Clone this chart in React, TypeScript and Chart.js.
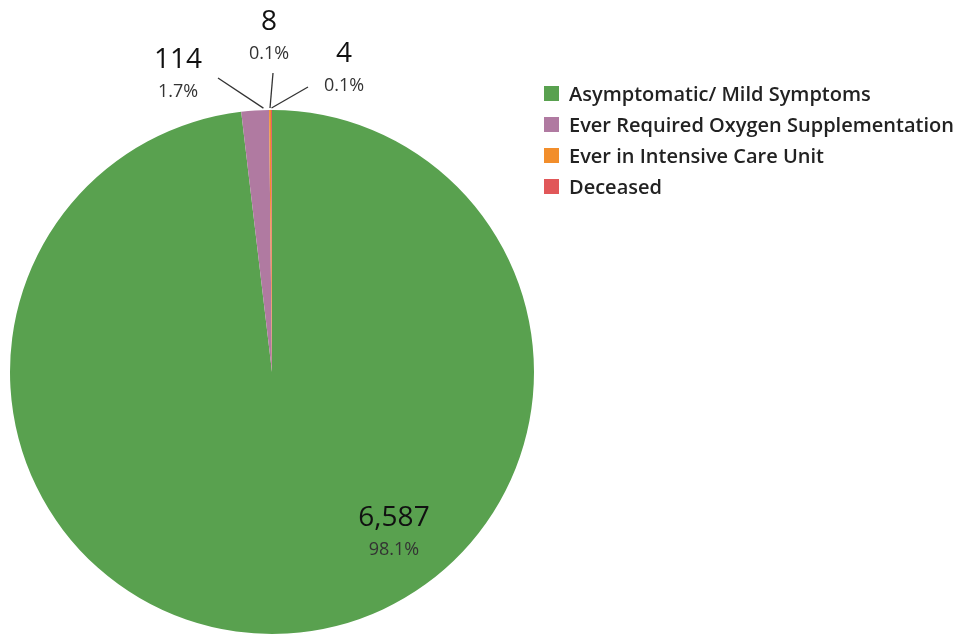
import React, { useEffect, useRef } from "react";
import { Chart, registerables } from "chart.js";

Chart.register(...registerables);

const categories = [
  "Asymptomatic/ Mild Symptoms",
  "Ever Required Oxygen Supplementation",
  "Ever in Intensive Care Unit",
  "Deceased",
];
const counts = [6587, 114, 8, 4];
const colors = ["#59A14F", "#B07AA1", "#F28E2B", "#E15759"];

// label layout (positions of text relative to image)
const labelLayout = [
  { x: 394, y: 526, line: null as null | { x: number; y: number }, frac: 0.5 },
  { x: 178, y: 68, line: { x: 218, y: 78 }, frac: 0.8 },
  { x: 269, y: 30, line: { x: 273, y: 73 }, frac: 0.5 },
  { x: 344, y: 62, line: { x: 308, y: 87 }, frac: 0.5 },
];

const FONT = "'Open Sans', 'Noto Sans', sans-serif";

const labelPlugin = {
  id: "customLabels",
  afterDraw(chart: any) {
    const ctx = chart.ctx as CanvasRenderingContext2D;
    const meta = chart.getDatasetMeta(0);
    const data = chart.data.datasets[0].data as number[];
    const total = data.reduce((a, b) => a + b, 0);
    ctx.save();
    meta.data.forEach((arc: any, i: number) => {
      const p = arc.getProps(["x", "y", "startAngle", "endAngle", "outerRadius"], true);
      const lay = labelLayout[i];
      const val = data[i];
      const pct = ((val / total) * 100).toFixed(1) + "%";
      if (lay.line) {
        const a = p.startAngle + (p.endAngle - p.startAngle) * lay.frac;
        const r = p.outerRadius + 2;
        const ex = p.x + Math.cos(a) * r;
        const ey = p.y + Math.sin(a) * r;
        ctx.strokeStyle = "#333";
        ctx.lineWidth = 1.3;
        ctx.beginPath();
        ctx.moveTo(lay.line.x, lay.line.y);
        ctx.lineTo(ex, ey);
        ctx.stroke();
      }
      ctx.textAlign = "center";
      ctx.textBaseline = "alphabetic";
      ctx.fillStyle = "#111";
      ctx.font = `28px ${FONT}`;
      ctx.fillText(val.toLocaleString("en-US"), lay.x, lay.y);
      ctx.fillStyle = "#333";
      ctx.font = `18px ${FONT}`;
      ctx.fillText(pct, lay.x, lay.y + 29);
    });

    // legend
    const lx = 544;
    const ly = [93, 124, 155, 186];
    categories.forEach((c, i) => {
      ctx.fillStyle = colors[i];
      ctx.fillRect(lx, ly[i] - 7, 15, 15);
      ctx.fillStyle = "#222";
      ctx.font = `600 20px ${FONT}`;
      ctx.textAlign = "left";
      ctx.textBaseline = "middle";
      ctx.fillText(c, lx + 25, ly[i] + 2);
    });
    ctx.restore();
  },
};

export default function App() {
  const ref = useRef<HTMLCanvasElement>(null);
  useEffect(() => {
    document.body.style.margin = "0";
    const chart = new Chart(ref.current!, {
      type: "pie",
      data: {
        labels: categories,
        datasets: [
          {
            data: counts,
            backgroundColor: colors,
            borderWidth: 0,
          },
        ],
      },
      options: {
        responsive: false,
        animation: false,
        layout: { padding: { left: 10, right: 429, top: 110, bottom: 2 } },
        plugins: {
          legend: { display: false },
          tooltip: { enabled: false },
        },
      },
      plugins: [labelPlugin],
    });
    return () => chart.destroy();
  }, []);
  return (
    <div style={{ width: 963, height: 636, background: "#fff" }}>
      <canvas ref={ref} width={963} height={636} style={{ display: "block" }} />
    </div>
  );
}
